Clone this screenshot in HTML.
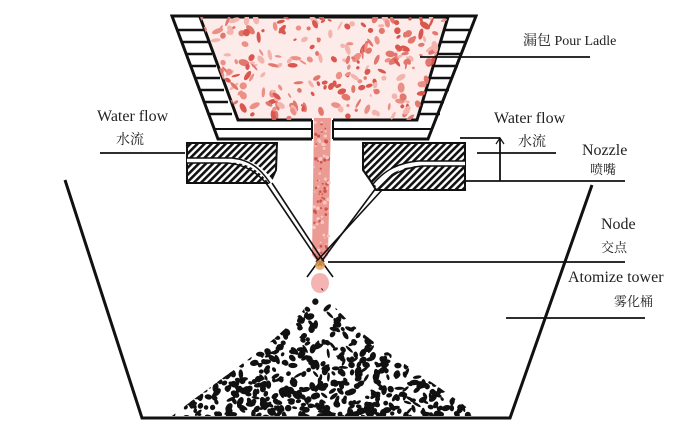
<!DOCTYPE html>
<html><head><meta charset="utf-8"><style>
html,body{margin:0;padding:0;background:#fff;}
svg{display:block;}
text{font-family:"Liberation Serif","Noto Serif CJK SC",serif;fill:#222;}
</style></head><body>
<svg id="s" width="692" height="440" viewBox="0 0 692 440" xmlns="http://www.w3.org/2000/svg">
<defs>
<pattern id="hatch" width="5" height="5" patternUnits="userSpaceOnUse" patternTransform="rotate(45)">
<rect width="5" height="5" fill="#fff"/><rect width="2.6" height="5" fill="#111"/>
</pattern>
<clipPath id="ladleIn"><polygon points="200,17 448,17 417,120 238,120"/></clipPath>
<clipPath id="pile"><path d="M320,284 C300,330 230,370 172,416 L478,416 C420,370 340,330 320,284 Z"/></clipPath>
</defs>
<rect width="692" height="440" fill="#fff"/>
<!-- ladle -->
<polygon points="172,16 476,16 428,139 218,139" fill="#fff" stroke="#111" stroke-width="3"/>
<g stroke="#111" stroke-width="2.5">
<line x1="177" y1="30" x2="204" y2="30"/><line x1="181" y1="42" x2="208" y2="42"/><line x1="186" y1="54" x2="212" y2="54"/>
<line x1="190" y1="66" x2="216" y2="66"/><line x1="195" y1="78" x2="220" y2="78"/><line x1="199" y1="90" x2="224" y2="90"/>
<line x1="204" y1="102" x2="228" y2="102"/><line x1="208" y1="114" x2="232" y2="114"/>
<line x1="444" y1="30" x2="471" y2="30"/><line x1="440" y1="42" x2="467" y2="42"/><line x1="436" y1="54" x2="462" y2="54"/>
<line x1="432" y1="66" x2="458" y2="66"/><line x1="428" y1="78" x2="453" y2="78"/><line x1="424" y1="90" x2="449" y2="90"/>
<line x1="420" y1="102" x2="444" y2="102"/><line x1="416" y1="114" x2="440" y2="114"/>
</g>
<polygon points="200,17 448,17 417,120 238,120" fill="#fcebe8" stroke="#111" stroke-width="3"/>
<g id="ladleDots" clip-path="url(#ladleIn)"></g>
<line x1="213" y1="129" x2="432" y2="129" stroke="#111" stroke-width="2"/>
<rect x="312" y="118" width="21" height="24" fill="#fff"/>
<line x1="312" y1="120" x2="312" y2="139" stroke="#111" stroke-width="2"/>
<line x1="333" y1="120" x2="333" y2="139" stroke="#111" stroke-width="2"/>
<!-- stream -->
<polygon points="314,118 331,118 328,255 320,265 312,255" fill="#ec9a94"/>
<g id="streamDots"></g>
<!-- nozzle blocks -->
<path d="M187,143 L277,143 L276,170 L270,183 L187,183 Z" fill="url(#hatch)" stroke="#111" stroke-width="2"/>
<path d="M187,160 L230,160 C250,160 262,170 272,183" fill="none" stroke="#fff" stroke-width="5"/>
<path d="M187,158 L232,158 C250,160 260,168 270,183 M187,163 L228,163 C246,165 256,172 266,183" fill="none" stroke="#111" stroke-width="1.5"/>
<path d="M363,143 L465,143 L465,190 L376,190 L370,180 L363,170 Z" fill="url(#hatch)" stroke="#111" stroke-width="2"/>
<path d="M465,163 L420,163 C398,165 386,172 376,186" fill="none" stroke="#fff" stroke-width="5"/>
<path d="M465,161 L418,161 C398,163 385,170 373,184 M465,166 L422,166 C402,168 390,175 380,188" fill="none" stroke="#111" stroke-width="1.5"/>
<!-- jets -->
<g stroke="#111" stroke-width="1.6">
<line x1="266" y1="183" x2="322" y2="266"/><line x1="272" y1="183" x2="324" y2="262"/>
<line x1="376" y1="188" x2="318" y2="266"/><line x1="382" y1="190" x2="316" y2="262"/>
<line x1="322" y1="262" x2="333" y2="277"/><line x1="318" y1="262" x2="307" y2="277"/>
</g>
<circle cx="320" cy="265" r="5" fill="#e8a050" opacity="0.8"/>
<ellipse cx="320" cy="283" rx="9" ry="10" fill="#f2a8a5" opacity="0.85"/>
<!-- tower -->
<polyline points="65,180 142,418 510,418 592,185" fill="none" stroke="#111" stroke-width="3"/>
<!-- pile -->
<g id="pileDots" clip-path="url(#pile)"></g>
<!-- leader lines -->
<g stroke="#111" stroke-width="1.8">
<line x1="420" y1="57" x2="590" y2="57"/>
<line x1="100" y1="153" x2="185" y2="153"/>
<line x1="477" y1="153" x2="556" y2="153"/>
<line x1="460" y1="138" x2="500" y2="138"/>
<line x1="500" y1="138" x2="500" y2="181"/>
<line x1="465" y1="181" x2="625" y2="181"/>
<line x1="328" y1="262" x2="625" y2="262"/>
<line x1="506" y1="318" x2="645" y2="318"/>
</g>
<path d="M496,144 L500,138 L504,144" fill="none" stroke="#111" stroke-width="1.2"/>
<!-- labels -->
<text x="523" y="45" font-size="14">漏包 Pour Ladle</text>
<text x="97" y="121" font-size="16">Water flow</text>
<text x="116" y="144" font-size="14">水流</text>
<text x="494" y="123" font-size="16">Water flow</text>
<text x="518" y="146" font-size="14">水流</text>
<text x="582" y="155" font-size="16">Nozzle</text>
<text x="590" y="174" font-size="13">喷嘴</text>
<text x="601" y="229" font-size="16">Node</text>
<text x="601" y="252" font-size="13">交点</text>
<text x="568" y="282" font-size="16">Atomize tower</text>
<text x="614" y="306" font-size="13">雾化桶</text>
</svg>
<script>
(function(){
var s=12345;function r(){s=(s*1103515245+12345)%2147483648;return s/2147483648;}
var NS="http://www.w3.org/2000/svg";
function el(g,t,a){var e=document.createElementNS(NS,t);for(var k in a)e.setAttribute(k,a[k]);g.appendChild(e);}
var g=document.getElementById("ladleDots");
for(var i=0;i<260;i++){var x=200+r()*250,y=17+r()*103;var c=["#e2776e","#ec8f86","#d9574f","#f4b4ae"][Math.floor(r()*4)];
el(g,"ellipse",{cx:x,cy:y,rx:1.5+r()*4.5,ry:1+r()*2.5,fill:c,transform:"rotate("+(r()*180)+" "+x+" "+y+")"});}
var st=document.getElementById("streamDots");
for(var i=0;i<90;i++){var y=120+r()*140;el(st,"circle",{cx:314+r()*15,cy:y,r:0.7+r()*1.2,fill:r()<0.5?"#d0534c":"#f7c8c4"});}
var p=document.getElementById("pileDots");
for(var i=0;i<900;i++){var t=Math.pow(r(),0.55);var y=286+t*132;var hw=12+t*160;var x=320+(r()*2-1)*hw;
if(r()<(y-286)/132*0.8+0.2)el(p,"ellipse",{cx:x,cy:y,rx:2+r()*3,ry:1.3+r()*2,fill:"#111",transform:"rotate("+(r()*180)+" "+x+" "+y+")"});}
})();
</script>
</body></html>
